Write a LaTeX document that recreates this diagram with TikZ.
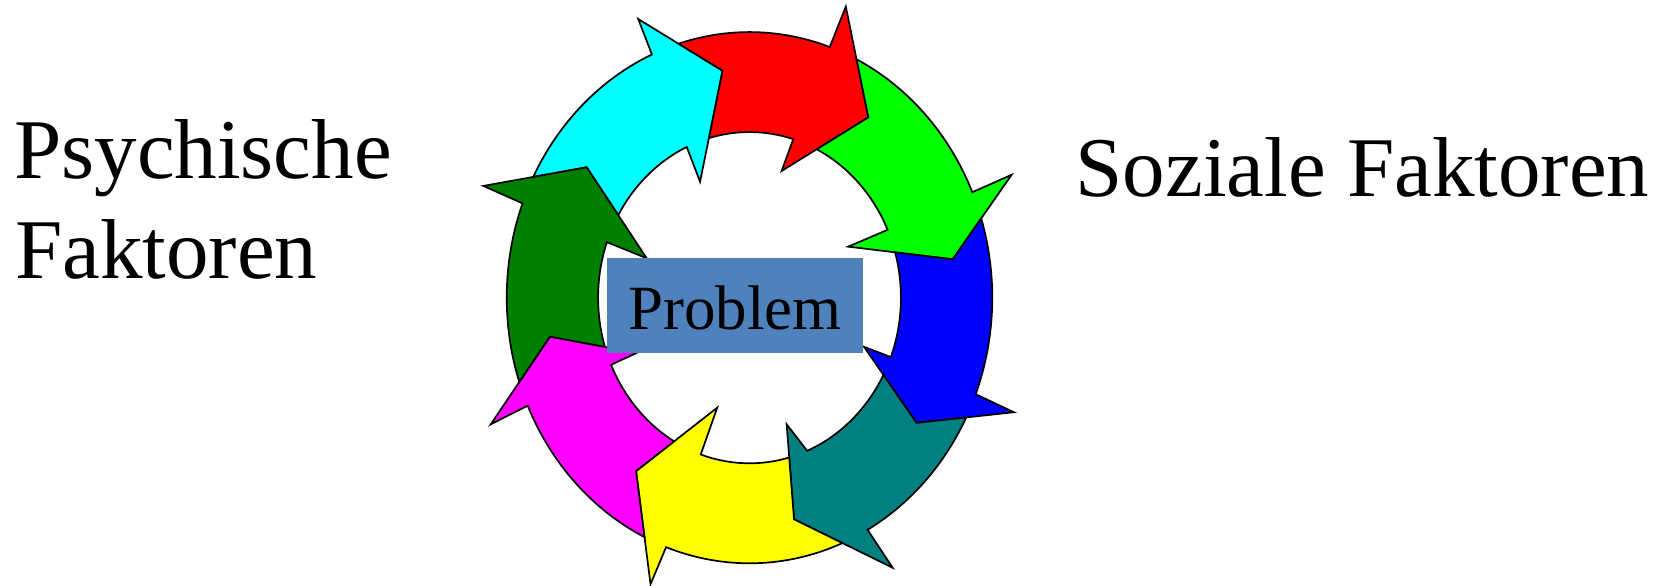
\documentclass[tikz,border=0pt]{standalone}
\usepackage{fontspec}
\setmainfont{Liberation Serif}
\definecolor{arCyan}{RGB}{0,255,255}
\definecolor{arRed}{RGB}{255,0,0}
\definecolor{arGreen}{RGB}{0,255,0}
\definecolor{arBlue}{RGB}{0,0,255}
\definecolor{arTeal}{RGB}{0,128,128}
\definecolor{arYellow}{RGB}{255,255,0}
\definecolor{arMagenta}{RGB}{255,0,255}
\definecolor{arDkGreen}{RGB}{0,128,0}
\definecolor{boxBlue}{RGB}{79,129,189}
\begin{document}
\begin{tikzpicture}[x=1pt,y=1pt,
  ringarrow/.style={draw=black, line width=1.7pt, line join=miter},
  bigtext/.style={font=\fontsize{85}{100}\selectfont, inner sep=0pt, anchor=base west},
  problembox/.style={fill=boxBlue, draw=none, inner sep=0pt, minimum width=255.4pt, minimum height=94.4pt}]
\useasboundingbox (0,0) rectangle (1668,586);
\fill[white] (0,0) rectangle (1668,586);

% cycle of eight curved arrows around the problem
\begin{scope}[shift={(749.5,288.3)}, yscale=1.094]
  \def\rO{242.8}
  \def\rI{151.4}
  \coordinate (tipCy) at (97.4:209.2);
  \coordinate (tipRe) at (54.2:203.2);
  \coordinate (tipGr) at (9.8:206.2);
  \coordinate (tipBl) at (-34.4:202.5);
  \coordinate (tipTe) at (-77.6:207.4);
  \coordinate (tipYe) at (-125.6:194.9);
  \coordinate (tipMa) at (-169.9:202.7);
  \coordinate (tipDg) at (143.8:201.8);

  \filldraw[ringarrow, fill=arCyan] (152.96:\rO) arc[start angle=152.96, end angle=113.7, radius=\rO]
    -- (113.6:278) -- (tipCy) -- (115:117) -- (114.5:\rI)
    arc[start angle=114.5, end angle=150.11, radius=\rI] -- (tipDg) -- cycle;

  \filldraw[ringarrow, fill=arRed] (107.0:\rO) arc[start angle=107.0, end angle=70.7, radius=\rO]
    -- (70.1:283) -- (tipRe) -- (74.5:120.2) -- (73.2:\rI)
    arc[start angle=73.2, end angle=105.5, radius=\rI] -- (tipCy) -- cycle;

  \filldraw[ringarrow, fill=arGreen] (63.84:\rO) arc[start angle=63.84, end angle=23.4, radius=\rO]
    -- (23.2:285.2) -- (tipGr) -- (25.3:109.2) -- (24.2:\rI)
    arc[start angle=24.2, end angle=63.63, radius=\rI] -- (tipRe) -- cycle;

  \filldraw[ringarrow, fill=arBlue] (17.36:\rO) arc[start angle=17.36, end angle=-21.3, radius=\rO]
    -- (-21.6:284.4) -- (tipBl) -- (-21.4:123) -- (-21.0:\rI)
    arc[start angle=-21.0, end angle=15.9, radius=\rI] -- (tipGr) -- cycle;

  \filldraw[ringarrow, fill=arTeal] (-26.8:\rO) arc[start angle=-26.8, end angle=-60.9, radius=\rO]
    -- (-59.9:285.3) -- (tipTe) -- (-72.2:121.5) -- (-67.6:\rI)
    arc[start angle=-67.6, end angle=-27.79, radius=\rI] -- (tipBl) -- cycle;

  \filldraw[ringarrow, fill=arYellow] (-67.5:\rO) arc[start angle=-67.5, end angle=-110.1, radius=\rO]
    -- (-110.7:280) -- (tipYe) -- (-107.8:105.6) -- (-108.8:\rI)
    arc[start angle=-108.8, end angle=-74.8, radius=\rI] -- (tipTe) -- cycle;

  \filldraw[ringarrow, fill=arMagenta] (-115.63:\rO) arc[start angle=-115.63, end angle=-156, radius=\rO]
    -- (-155.9:283.5) -- (tipMa) -- (-155.9:123.5) -- (-156.1:\rI)
    arc[start angle=-156.1, end angle=-119.88, radius=\rI] -- (tipYe) -- cycle;

  \filldraw[ringarrow, fill=arDkGreen] (198.52:\rO) arc[start angle=198.52, end angle=159.2, radius=\rO]
    -- (159:285.1) -- (tipDg) -- (160.7:108.9) -- (160.4:\rI)
    arc[start angle=160.4, end angle=197.27, radius=\rI] -- (tipMa) -- cycle;
\end{scope}

% central box
\node[problembox] (problem) at (735,280.5) {};
\node[font=\fontsize{63}{70}\selectfont, inner sep=0pt, anchor=base] (problemlabel) at (735,256.7) {Problem};

% side labels
\node[bigtext] (psych1) at (14,407.7) {Psychische};
\node[bigtext] (psych2) at (15,307.7) {Faktoren};
\node[bigtext] (sozial) at (1075.5,389.2) {Soziale Faktoren};
\end{tikzpicture}
\end{document}
